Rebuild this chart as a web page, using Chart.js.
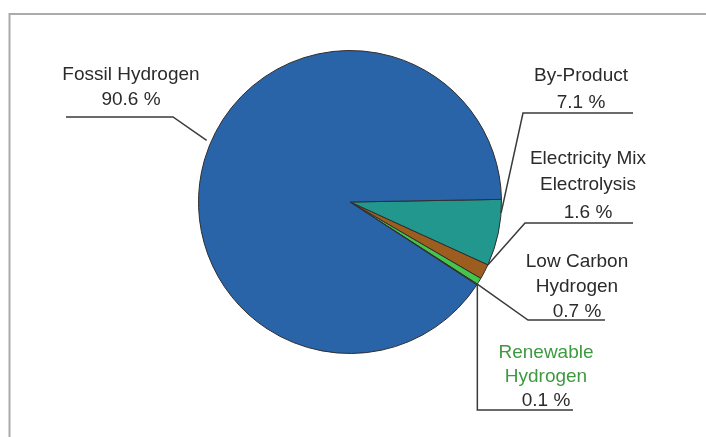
<!DOCTYPE html>
<html>
<head>
<meta charset="utf-8">
<script src="https://cdn.jsdelivr.net/npm/chart.js@4/dist/chart.umd.min.js"></script>
<style>
  html, body { margin: 0; padding: 0; background: #fff; }
  #wrap { width: 706px; height: 437px; position: relative; }
</style>
</head>
<body>
<div id="wrap"><canvas id="pieChart" width="706" height="437"></canvas></div>
<script>
// === Hydrogen production share pie ===

// Data (clockwise from 3 o'clock)
const categories = [
    ['By-Product'],
    ['Electricity Mix', 'Electrolysis'],
    ['Low Carbon', 'Hydrogen'],
    ['Renewable', 'Hydrogen'],
    ['Fossil Hydrogen']
];
const shares = [7.1, 1.6, 0.7, 0.1, 90.6];

const COLORS = {
    slices: ['#21978d', '#9c5d1f', '#45c64a', '#2f9a3a', '#2864a7'],
    outline: '#2e2e2e',
    text: '#2b2b2b',
    renewableText: '#3e9a40',
    leader: '#3a3a3a',
    frame: '#ababab'
};

// Label placement (text centre x, baselines, leader elbow and underline end)
const LABEL_LAYOUT = [
    { frac: 0.2,  x: 581, baselines: [81, 108],      elbow: [523, 113], end: [633, 113] },
    { frac: 0.0,  x: 588, baselines: [164, 190, 218], elbow: [525, 223], end: [633, 223] },
    { frac: 1.0,  x: 577, baselines: [267, 292, 317], elbow: [528, 320], end: [605, 320] },
    { frac: 0.0,  x: 546, baselines: [358, 382, 406], elbow: [null, 410], end: [573, 410], color: COLORS.renewableText },
    { frac: 0.522, x: 131, baselines: [80, 105],     elbow: [173, 117], end: [66, 117], push: 1.03 }
];

const labelPlugin = {
    id: 'leaderLabels',
    afterDraw(chart) {
        const ctx = chart.ctx;
        const meta = chart.getDatasetMeta(0);

        // frame (top + left rule)
        ctx.save();
        ctx.strokeStyle = COLORS.frame;
        ctx.lineWidth = 2;
        ctx.beginPath();
        ctx.moveTo(9.5, 437);
        ctx.lineTo(9.5, 14);
        ctx.lineTo(706, 14);
        ctx.stroke();

        ctx.font = '19px "Liberation Sans", Arial, sans-serif';
        ctx.textAlign = 'center';
        ctx.textBaseline = 'alphabetic';

        meta.data.forEach((arc, i) => {
            const lay = LABEL_LAYOUT[i];
            const p = arc.getProps(['x', 'y', 'startAngle', 'endAngle', 'outerRadius'], true);
            const a = p.startAngle + lay.frac * (p.endAngle - p.startAngle);
            const r = p.outerRadius * (lay.push || 1);
            const ax = p.x + r * Math.cos(a);
            const ay = p.y + r * Math.sin(a);
            const ex = lay.elbow[0] === null ? ax : lay.elbow[0];

            ctx.strokeStyle = COLORS.leader;
            ctx.lineWidth = 1.5;
            ctx.beginPath();
            ctx.moveTo(ax, ay);
            ctx.lineTo(ex, lay.elbow[1]);
            ctx.lineTo(lay.end[0], lay.end[1]);
            ctx.stroke();

            const lines = categories[i].concat([shares[i].toFixed(1) + ' %']);
            ctx.fillStyle = lay.color || COLORS.text;
            lines.forEach((t, j) => {
                if (j === lines.length - 1) ctx.fillStyle = COLORS.text;
                ctx.fillText(t, lay.x, lay.baselines[j]);
            });
        });
        ctx.restore();
    }
};

new Chart(document.getElementById('pieChart').getContext('2d'), {
    type: 'pie',
    data: {
        labels: categories,
        datasets: [{
            data: shares,
            backgroundColor: COLORS.slices,
            borderColor: COLORS.outline,
            borderWidth: 1
        }]
    },
    options: {
        responsive: false,
        animation: false,
        rotation: 89,
        layout: { padding: { top: 50, bottom: 83, left: 198, right: 204 } },
        plugins: {
            legend: { display: false },
            tooltip: { enabled: false }
        }
    },
    plugins: [labelPlugin]
});
</script>
</body>
</html>
